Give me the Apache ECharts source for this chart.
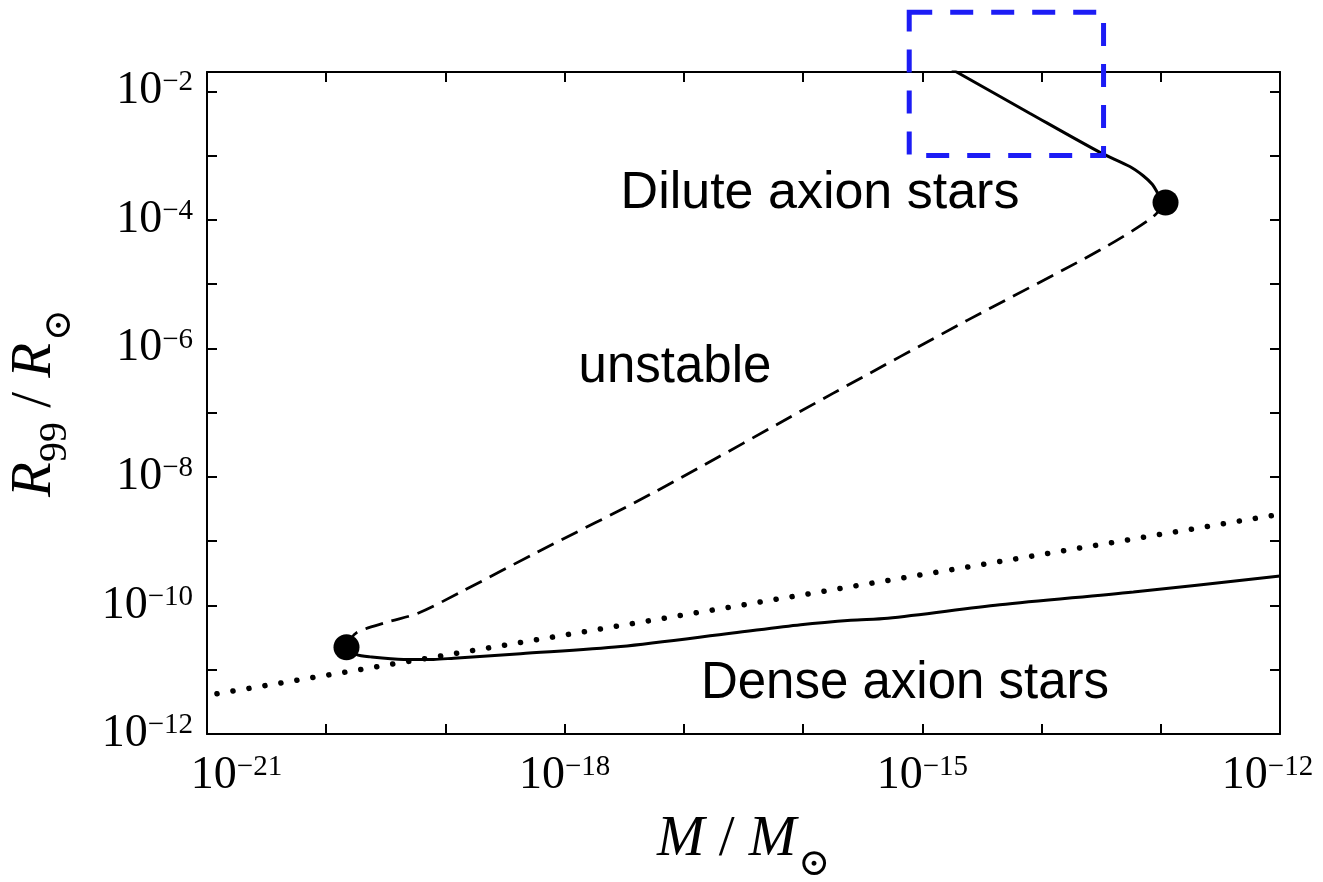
<!DOCTYPE html>
<html>
<head>
<meta charset="utf-8">
<script src="https://cdn.jsdelivr.net/npm/echarts@6/dist/echarts.min.js"></script>
<style>
  html, body { margin: 0; padding: 0; background: #ffffff; }
  #chart { width: 1323px; height: 882px; }
</style>
</head>
<body>
<div id="chart"></div>
<script>
// Axion star mass–radius relation. All values are base-10 exponents:
// logM = log10(M / M_sun), logR = log10(R99 / R_sun).

const xRange = [-21, -12];
const yRange = [-12, Math.log10(0.02)];
const xLabelExps = [-21, -18, -15, -12];
const yLabelExps = [-12, -10, -8, -6, -4, -2];

// stable dilute branch (solid, upper right)
const diluteLogM = [-14.75, -14.10, -13.51, -13.26, -13.15, -13.07, -13.02, -12.96];
const diluteLogR = [-1.66, -2.34, -2.95, -3.17, -3.31, -3.45, -3.60, -3.73];

// unstable branch (dashed), from the maximum-mass point down to the minimum-mass point
const unstableLogM = [-12.96, -13.07, -13.51, -14.62, -15.75, -17.26, -18.23, -18.87, -19.23, -19.49, -19.75, -19.83];
const unstableLogR = [-3.73, -3.96, -4.47, -5.56, -6.70, -8.25, -9.17, -9.79, -10.12, -10.26, -10.43, -10.65];

// dense branch (solid, bottom)
const denseLogM = [-19.83, -19.75, -19.63, -19.35, -19.10, -18.93, -18.37, -17.53, -16.59, -16.02, -15.60, -15.29, -14.35, -13.23, -12.00];
const denseLogR = [-10.65, -10.76, -10.80, -10.84, -10.84, -10.82, -10.75, -10.64, -10.43, -10.30, -10.23, -10.20, -9.99, -9.79, -9.54];

// constant-density reference line (dotted)
const refLogM = [-21, -12];
const refLogR = [-11.40, -8.58];

// branch end points (filled circles)
const endLogM = [-19.83, -12.96];
const endLogR = [-10.65, -3.73];

// highlighted window on the dilute branch
const boxLogM = [-15.11, -13.48];
const boxLogR = [-3.0, -0.77];

const pairs = (xs, ys) => xs.map((x, i) => [x, ys[i]]);

const SERIF = "'Liberation Serif', 'DejaVu Serif', serif";
const SANS = "'Liberation Sans', Arial, sans-serif";

const tickRich = {
  b:  { fontFamily: SERIF, fontSize: 46, lineHeight: 46, verticalAlign: 'top', color: '#000' },
  b0: { fontFamily: SERIF, fontSize: 46, lineHeight: 46, verticalAlign: 'top', color: '#000', padding: [0, 0, 0, 59] },
  s:  { fontFamily: SERIF, fontSize: 29, lineHeight: 29, verticalAlign: 'top', color: '#000' },
  s1: { fontFamily: SERIF, fontSize: 29, lineHeight: 29, verticalAlign: 'top', color: '#000', padding: [0, 25, 0, 0] }
};

function powLabel(v, shown) {
  const e = Math.round(v);
  if (Math.abs(v - e) > 1e-6 || shown.indexOf(e) < 0) return '';
  return '{b|10}{s|\u2212' + Math.abs(e) + '}';
}
function xLabel(v) {
  const e = Math.round(v);
  if (Math.abs(v - e) < 1e-6 && e === xLabelExps[0]) return '{b0|10}{s|\u2212' + Math.abs(e) + '}';
  if (Math.abs(v - e) < 1e-6 && e === xLabelExps[xLabelExps.length - 1]) return '{b|10}{s1|\u2212' + Math.abs(e) + '}';
  return powLabel(v, xLabelExps);
}

const axisLine = { show: true, onZero: false, lineStyle: { color: '#000', width: 2 } };
const axisTick = { show: true, inside: true, length: 10, lineStyle: { color: '#000', width: 2 } };

const titleRich = {
  i:   { fontFamily: SERIF, fontStyle: 'italic', fontSize: 57, lineHeight: 60, verticalAlign: 'top', color: '#000' },
  n:   { fontFamily: SERIF, fontSize: 57, lineHeight: 60, verticalAlign: 'top', color: '#000' },
  sub: { fontFamily: SERIF, fontSize: 40, lineHeight: 40, verticalAlign: 'top', color: '#000', padding: [28, 0, 0, 0] },
  sun: { fontFamily: "'DejaVu Serif', 'DejaVu Sans', serif", fontSize: 38, lineHeight: 38, verticalAlign: 'top', color: '#000', padding: [34, 0, 0, 2] }
};

const chart = echarts.init(document.getElementById('chart'), null, { renderer: 'canvas' });

const option = {
  animation: false,
  backgroundColor: '#ffffff',
  grid: { left: 207, right: 43, top: 72, bottom: 148, containLabel: false, outerBoundsMode: 'none' },
  xAxis: [
    {
      type: 'value', min: xRange[0], max: xRange[1], interval: 1, position: 'bottom',
      axisLine, axisTick, splitLine: { show: false },
      axisLabel: { margin: 19, formatter: xLabel, rich: tickRich },
      name: '{i|M}{n| / }{i|M}{sun|\u2299}', nameLocation: 'middle', nameGap: 78,
      nameTextStyle: { rich: titleRich }
    },
    {
      type: 'value', min: xRange[0], max: xRange[1], interval: 1, position: 'top',
      axisLine, axisTick, splitLine: { show: false }, axisLabel: { show: false }
    }
  ],
  yAxis: [
    {
      type: 'value', min: yRange[0], max: yRange[1], interval: 1, position: 'left',
      axisLine, axisTick, splitLine: { show: false },
      axisLabel: { margin: 14, formatter: v => powLabel(v, yLabelExps), rich: tickRich },
      name: '{i|R}{sub|99}{n| / }{i|R}{sun|\u2299}', nameLocation: 'middle', nameRotate: 90, nameGap: 140,
      nameTextStyle: { rich: titleRich }
    },
    {
      type: 'value', min: yRange[0], max: yRange[1], interval: 1, position: 'right',
      axisLine, axisTick, splitLine: { show: false }, axisLabel: { show: false }
    }
  ],
  series: [
    {
      name: 'constant density', type: 'line', data: pairs(refLogM, refLogR),
      showSymbol: false, symbol: 'none', clip: true, z: 2,
      lineStyle: { color: '#000', width: 5.5, type: [0.1, 16.1], cap: 'round', dashOffset: 6.1 }
    },
    {
      name: 'dense', type: 'line', data: pairs(denseLogM, denseLogR),
      showSymbol: false, symbol: 'none', clip: true, z: 3, smooth: 0.3,
      lineStyle: { color: '#000', width: 3 }
    },
    {
      name: 'unstable', type: 'line', data: pairs(unstableLogM, unstableLogR),
      showSymbol: false, symbol: 'none', clip: true, z: 3, smooth: 0.3,
      lineStyle: { color: '#000', width: 2.8, type: [18, 9] }
    },
    {
      name: 'dilute', type: 'line', data: pairs(diluteLogM, diluteLogR),
      showSymbol: false, symbol: 'none', clip: true, z: 3, smooth: 0.3,
      lineStyle: { color: '#000', width: 3 }
    },
    {
      name: 'end points', type: 'scatter', data: pairs(endLogM, endLogR),
      symbol: 'circle', symbolSize: 26, z: 4,
      itemStyle: { color: '#000', opacity: 1 }
    }
  ],
  graphic: [
    { id: 'lblDilute', type: 'text', x: 820, y: 194, z: 10,
      style: { text: 'Dilute axion stars', fontFamily: SANS, fontSize: 52, fill: '#000', align: 'center', verticalAlign: 'middle' } },
    { id: 'lblUnstable', type: 'text', x: 675, y: 368, z: 10,
      style: { text: 'unstable', fontFamily: SANS, fontSize: 51, fill: '#000', align: 'center', verticalAlign: 'middle' } },
    { id: 'lblDense', type: 'text', x: 905, y: 684, z: 10,
      style: { text: 'Dense axion stars', fontFamily: SANS, fontSize: 51, fill: '#000', align: 'center', verticalAlign: 'middle' } }
  ]
};

chart.setOption(option);

// dashed blue window, placed through the grid's coordinate system
const p0 = chart.convertToPixel({ xAxisIndex: 0, yAxisIndex: 0 }, [boxLogM[0], boxLogR[1]]);
const p1 = chart.convertToPixel({ xAxisIndex: 0, yAxisIndex: 0 }, [boxLogM[1], boxLogR[0]]);
chart.setOption({
  graphic: [
    { id: 'window', type: 'rect', z: 20,
      shape: { x: p0[0], y: p0[1], width: p1[0] - p0[0], height: p1[1] - p0[1] },
      style: { fill: 'none', stroke: '#1c1cf5', lineWidth: 5, lineDash: [23, 18] } }
  ]
});
</script>
</body>
</html>
